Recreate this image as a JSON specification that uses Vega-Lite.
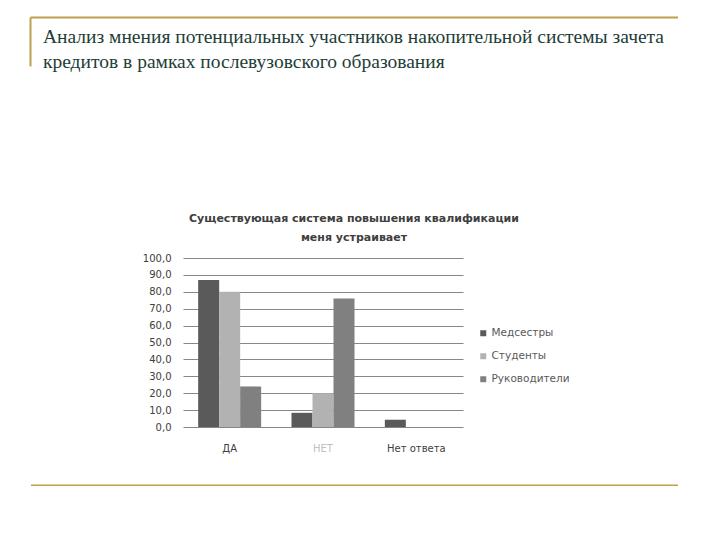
{
  "$schema": "https://vega.github.io/schema/vega-lite/v6.json",
  "background": "white",
  "padding": {"left": 30, "top": 17, "right": 0, "bottom": 0},
  "config": {"view": {"stroke": null}, "font": "DejaVu Sans"},
  "datasets": {
    "bars": [
      {"answer": "ДА", "group": "Медсестры", "value": 87.0},
      {"answer": "ДА", "group": "Студенты", "value": 80.0},
      {"answer": "ДА", "group": "Руководители", "value": 24.0},
      {"answer": "НЕТ", "group": "Медсестры", "value": 8.4},
      {"answer": "НЕТ", "group": "Студенты", "value": 20.0},
      {"answer": "НЕТ", "group": "Руководители", "value": 76.0},
      {"answer": "Нет ответа", "group": "Медсестры", "value": 4.3},
      {"answer": "Нет ответа", "group": "Студенты", "value": 0},
      {"answer": "Нет ответа", "group": "Руководители", "value": 0}
    ],
    "empty": []
  },
  "spacing": 32,
  "center": true,
  "resolve": {"scale": {"color": "independent"}, "legend": {"color": "independent"}},
  "vconcat": [
    {
      "spacing": 142,
      "center": true,
      "resolve": {"scale": {"color": "independent"}, "legend": {"color": "independent"}},
      "vconcat": [
        {
          "width": 648,
          "height": 49,
          "data": {"name": "empty"},
          "title": {
            "text": ["Анализ мнения потенциальных участников накопительной системы зачета", "кредитов в рамках послевузовского образования"],
            "orient": "top",
            "anchor": "start",
            "font": "Liberation Serif",
            "fontSize": 19.5,
            "fontWeight": "normal",
            "lineHeight": 25,
            "color": "#1e3d36",
            "offset": -55,
            "dx": 13
          },
          "mark": "point",
          "encoding": {
            "x": {"field": "u", "type": "quantitative", "scale": {"domain": [0, 1]},
                  "axis": {"orient": "top", "labels": false, "ticks": false, "grid": false, "title": null, "domainColor": "#c0a050", "domainWidth": 2}},
            "y": {"field": "v", "type": "quantitative", "scale": {"domain": [0, 1]},
                  "axis": {"orient": "left", "labels": false, "ticks": false, "grid": false, "title": null, "domainColor": "#c0a050", "domainWidth": 2}}
          }
        },
        {
          "spacing": 0,
          "resolve": {"scale": {"color": "independent"}, "legend": {"color": "independent"}},
          "hconcat": [
            {
              "width": 4,
              "height": 1,
              "data": {"name": "empty"},
              "mark": "point",
              "encoding": {}
            },
            {
              "width": 280,
              "height": 169,
              "data": {"name": "bars"},
              "title": {
                "text": ["Существующая система повышения квалификации", "меня устраивает"],
                "anchor": "middle",
                "frame": "group",
                "dx": 31,
                "fontSize": 11,
                "fontWeight": "bold",
                "lineHeight": 19,
                "color": "#404040",
                "offset": 10
              },
              "mark": {"type": "bar"},
              "encoding": {
                "x": {
                  "field": "answer", "type": "nominal",
                  "sort": ["ДА", "НЕТ", "Нет ответа"],
                  "scale": {"paddingInner": 0.325, "paddingOuter": 0.1625},
                  "axis": {
                    "title": null, "labelAngle": 0, "ticks": false, "domain": false,
                    "labelPadding": 16, "labelFontSize": 10,
                    "labelColor": {"condition": {"test": "datum.value === 'НЕТ'", "value": "#c0c0c0"}, "value": "#404040"}
                  }
                },
                "xOffset": {
                  "field": "group", "type": "nominal",
                  "sort": ["Медсестры", "Студенты", "Руководители"],
                  "scale": {"paddingInner": 0, "paddingOuter": 0}
                },
                "y": {
                  "field": "value", "type": "quantitative",
                  "scale": {"domain": [0, 100], "nice": false},
                  "axis": {
                    "title": null,
                    "values": [0, 10, 20, 30, 40, 50, 60, 70, 80, 90, 100],
                    "labelExpr": "replace(format(datum.value, '.1f'), '.', ',')",
                    "domain": false, "ticks": false, "labelPadding": 12,
                    "labelFontSize": 10, "labelColor": "#404040",
                    "gridColor": "#878787", "gridWidth": 1
                  }
                },
                "color": {
                  "field": "group", "type": "nominal",
                  "sort": ["Медсестры", "Студенты", "Руководители"],
                  "scale": {"domain": ["Медсестры", "Студенты", "Руководители"], "range": ["#5a5a5a", "#b2b2b2", "#808080"]},
                  "legend": {
                    "title": " ", "titleFontSize": 10, "titlePadding": 60,
                    "orient": "right", "offset": 15, "padding": 0,
                    "symbolType": "square", "symbolSize": 36, "symbolStrokeWidth": 0,
                    "labelFontSize": 10.5, "labelColor": "#595959", "rowPadding": 12, "labelOffset": 3
                  }
                }
              }
            }
          ]
        }
      ]
    },
    {
      "width": 647,
      "height": 1,
      "data": {"name": "empty"},
      "mark": "point",
      "encoding": {
        "x": {"field": "w", "type": "quantitative", "scale": {"domain": [0, 1]},
              "axis": {"orient": "top", "labels": false, "ticks": false, "grid": false, "title": null, "domainColor": "#c0a050", "domainWidth": 2, "domainOpacity": 1}}
      }
    }
  ]
}
